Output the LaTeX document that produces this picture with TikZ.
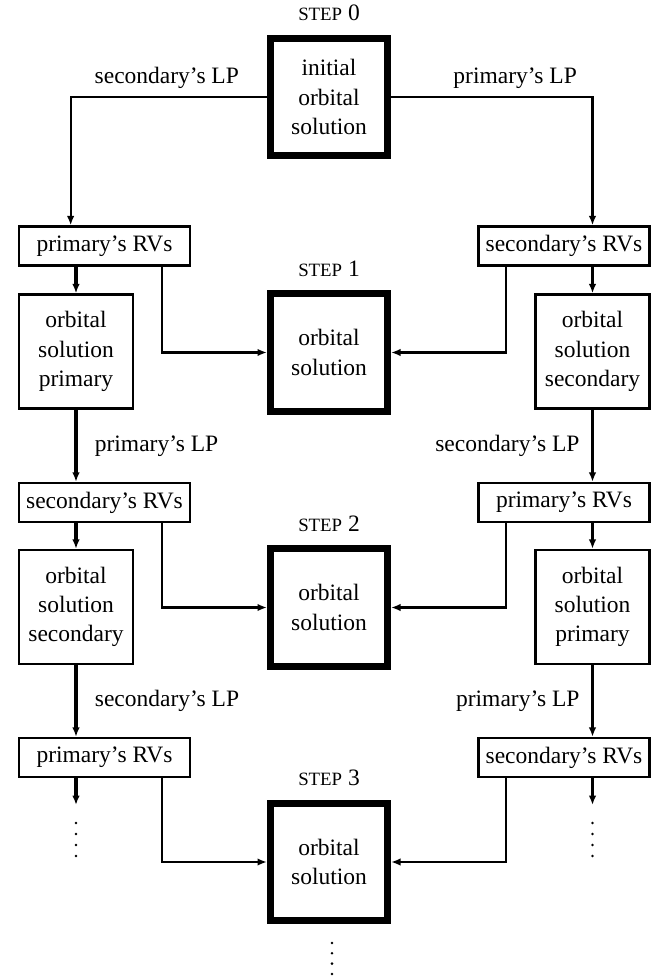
\documentclass[tikz,border=0pt]{standalone}
\usepackage{fontspec}
\setmainfont{Liberation Serif}
\usetikzlibrary{arrows.meta,positioning}

\newcommand{\stepname}[1]{{\fontsize{8}{9.6}\selectfont STEP} #1}

\tikzset{
    rvbox/.style = {draw, line width = 1pt, minimum width = 72.8pt, minimum height = 16.6pt, inner sep = 2pt},
    orbbox/.style = {draw, line width = 1pt, minimum width = 48.5pt, minimum height = 48.5pt, inner sep = 2pt, align = center},
    stepbox/.style = {draw, line width = 2.85pt, minimum width = 50pt, minimum height = 50pt, align = center},
    mainarrow/.style = {-{Latex[length = 4pt, width = 3.2pt]}, line width = 1.4pt},
    sidearrow/.style = {-{Latex[length = 4pt, width = 3.2pt]}, line width = 0.9pt}
}

\begin{document}
\begin{tikzpicture}[x = 0.4255pt, y = -0.4255pt, every node/.append style = {font = \fontsize{10}{12.5}\selectfont}]
    \useasboundingbox (0,0) rectangle (660,979);
    % middle column
    \node[stepbox] (step0) at (329,97) {initial\\orbital\\solution};
    \node[stepbox] (step1) at (329,352.5) {orbital\\solution};
    \node[stepbox] (step2) at (329,607.5) {orbital\\solution};
    \node[stepbox] (step3) at (329,862) {orbital\\solution};
    \node[above = 2.5pt of step0] (lab0) {\stepname{0}};
    \node[above = 2.5pt of step1] (lab1) {\stepname{1}};
    \node[above = 2.5pt of step2] (lab2) {\stepname{2}};
    \node[above = 2.5pt of step3] (lab3) {\stepname{3}};
    \coordinate (dotsC) at (332,943);
    % left column
    \node[rvbox] (rvL1) at (104.5,246) {primary's RVs};
    \node[orbbox] (orbL1) at (76,351.5) {orbital\\solution\\primary};
    \node[rvbox] (rvL2) at (104.5,502.5) {secondary's RVs};
    \node[orbbox] (orbL2) at (76,607) {orbital\\solution\\secondary};
    \node[rvbox] (rvL3) at (104.5,757.5) {primary's RVs};
    \coordinate (endL) at (76,805);
    \coordinate (dotsL) at (76,823);
    % right column
    \node[rvbox] (rvR1) at (564,246) {secondary's RVs};
    \node[orbbox] (orbR1) at (592.5,351.5) {orbital\\solution\\secondary};
    \node[rvbox] (rvR2) at (564,502.5) {primary's RVs};
    \node[orbbox] (orbR2) at (592.5,607) {orbital\\solution\\primary};
    \node[rvbox] (rvR3) at (564,757.5) {secondary's RVs};
    \coordinate (endR) at (592.5,805);
    \coordinate (dotsR) at (592.5,823);

    % step 0
    \draw[sidearrow] (step0.west) -| ([xshift = 22.5pt]rvL1.north west)
        node[pos = 0.255, above = -0.4pt] (lpL0) {secondary's LP};
    \draw[sidearrow] (step0.east) -| (rvR1.north -| orbR1)
        node[pos = 0.308, above = -0.4pt] (lpR0) {primary's LP};

    % left chain
    \draw[mainarrow] (rvL1.south -| orbL1) -- (orbL1);
    \draw[mainarrow] (orbL1) -- (rvL2.north -| orbL1)
        node[midway, right = 4pt] (lpL1) {primary's LP};
    \draw[mainarrow] (rvL2.south -| orbL2) -- (orbL2);
    \draw[mainarrow] (orbL2) -- (rvL3.north -| orbL2)
        node[midway, right = 4pt] (lpL2) {secondary's LP};
    \draw[mainarrow] (rvL3.south -| endL) -- (endL);

    % right chain
    \draw[mainarrow] (rvR1.south -| orbR1) -- (orbR1);
    \draw[mainarrow] (orbR1) -- (rvR2.north -| orbR1)
        node[midway, left = 1.5pt] (lpR1) {secondary's LP};
    \draw[mainarrow] (rvR2.south -| orbR2) -- (orbR2);
    \draw[mainarrow] (orbR2) -- (rvR3.north -| orbR2)
        node[midway, left = 1.5pt] (lpR2) {primary's LP};
    \draw[mainarrow] (rvR3.south -| endR) -- (endR);

    % into the steps
    \draw[sidearrow] ([xshift = -12.3pt]rvL1.south east) |- (step1.west);
    \draw[sidearrow] ([xshift = 12.3pt]rvR1.south west) |- (step1.east);
    \draw[sidearrow] ([xshift = -12.3pt]rvL2.south east) |- (step2.west);
    \draw[sidearrow] ([xshift = 12.3pt]rvR2.south west) |- (step2.east);
    \draw[sidearrow] ([xshift = -12.3pt]rvL3.south east) |- (step3.west);
    \draw[sidearrow] ([xshift = 12.3pt]rvR3.south west) |- (step3.east);

    % dots going on
    \foreach \k in {0,...,3} {
        \fill (dotsL) ++(0,11*\k) circle[radius = 1.4];
        \fill (dotsR) ++(0,11*\k) circle[radius = 1.4];
        \fill (dotsC) ++(0,10.3*\k) circle[radius = 1.4];
    }
\end{tikzpicture}
\end{document}
